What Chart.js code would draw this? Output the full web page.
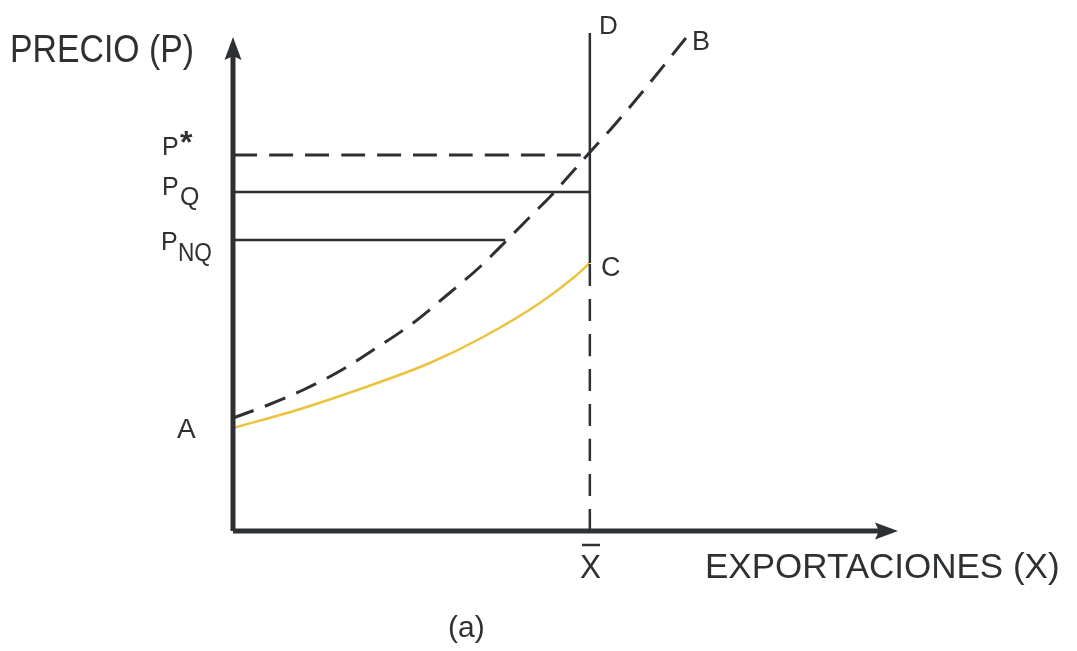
<!DOCTYPE html>
<html>
<head>
<meta charset="utf-8">
<script src="https://cdn.jsdelivr.net/npm/chart.js@4"></script>
<style>
  html, body { margin: 0; padding: 0; background: #ffffff; }
  #wrap { width: 1077px; height: 651px; }
</style>
</head>
<body>
<div id="wrap"><canvas id="c" width="1077" height="651"></canvas></div>
<script>
// ---- data (axis units: x 0..100, y 0..100) ----
const curveACx = [0, 9.6, 19.5, 29.5, 37.5, 46.0, 51.0, 53.5];
const curveACy = [20.6, 24.2, 28.6, 33.6, 38.8, 45.6, 50.6, 53.6];
const curveABx = [0, 5.25, 10.5, 16.3, 20.8, 27.0, 32.1, 37.0, 40.8, 44.8, 47.5, 53.4, 56.8, 61.0, 67.9];
const curveABy = [22.6, 25.2, 28.2, 32.2, 36.0, 41.6, 47.2, 52.8, 57.8, 63.2, 66.8, 75.6, 80.6, 87.2, 98.6];
const xBar = 53.5;
const priceLevels = [75.2, 67.8, 58.2];        // P*, PQ, PNQ
const priceLineEnds = [53.5, 53.5, 40.8];      // where each horizontal ends
const cLevel = 53.6;
const dTop = 99.6;
const xAxisEnd = 99.7;
const yAxisEnd = 98.8;

const INK = '#2e3134';
const YELLOW = '#ecc33e';

function pts(xs, ys) { return xs.map((x, i) => ({ x: x, y: ys[i] })); }

const datasets = [
  // axes
  { data: [{x:0,y:0},{x:xAxisEnd - 2.5,y:0}], borderColor: INK, borderWidth: 5 },
  { data: [{x:0,y:0},{x:0,y:yAxisEnd - 3.5}], borderColor: INK, borderWidth: 5 },
  // P*, dashed
  { data: [{x:0,y:priceLevels[0]},{x:priceLineEnds[0],y:priceLevels[0]}], borderColor: INK, borderWidth: 3, borderDash: [24, 12] },
  // PQ
  { data: [{x:0,y:priceLevels[1]},{x:priceLineEnds[1],y:priceLevels[1]}], borderColor: INK, borderWidth: 2.5 },
  // PNQ
  { data: [{x:0,y:priceLevels[2]},{x:priceLineEnds[2],y:priceLevels[2]}], borderColor: INK, borderWidth: 2.5 },
  // D (solid from C up)
  { data: [{x:xBar,y:cLevel},{x:xBar,y:dTop}], borderColor: INK, borderWidth: 2.5 },
  // dashed from X̄ to C
  { data: [{x:xBar,y:0},{x:xBar,y:cLevel}], borderColor: INK, borderWidth: 2.5, borderDash: [22, 13] },
  // A-C yellow curve
  { data: pts(curveACx, curveACy), borderColor: YELLOW, borderWidth: 2.5, cubicInterpolationMode: 'monotone' },
  // A-B dashed curve
  { data: pts(curveABx, curveABy), borderColor: INK, borderWidth: 3, borderDash: [22, 12], cubicInterpolationMode: 'monotone' }
].map(d => Object.assign({ showLine: true, pointRadius: 0, fill: false, clip: false }, d));

const labelPlugin = {
  id: 'labels',
  afterDatasetsDraw(chart) {
    const ctx = chart.ctx;
    const xs = chart.scales.x, ys = chart.scales.y;
    const X = v => xs.getPixelForValue(v), Y = v => ys.getPixelForValue(v);
    ctx.save();
    ctx.fillStyle = INK;
    ctx.strokeStyle = INK;
    // arrowheads
    const ox = X(0), oy = Y(0);
    const xt = X(xAxisEnd), yt = Y(yAxisEnd);
    ctx.beginPath();
    ctx.moveTo(xt, oy); ctx.lineTo(xt - 23, oy - 8.5); ctx.lineTo(xt - 19, oy); ctx.lineTo(xt - 23, oy + 8.5); ctx.closePath(); ctx.fill();
    ctx.beginPath();
    ctx.moveTo(ox, yt); ctx.lineTo(ox - 8.5, yt + 23); ctx.lineTo(ox, yt + 19); ctx.lineTo(ox + 8.5, yt + 23); ctx.closePath(); ctx.fill();

    const F = 'Liberation Sans, Arial, sans-serif';
    ctx.textBaseline = 'alphabetic';
    ctx.textAlign = 'left';
    function t(s, x, y, size, maxW, weight) {
      ctx.font = (weight || '') + ' ' + size + 'px ' + F;
      if (maxW) ctx.fillText(s, x, y, maxW); else ctx.fillText(s, x, y);
    }
    // axis titles
    t('PRECIO (P)', 10, 62, 39, 184);
    t('EXPORTACIONES (X)', 705, 578, 35, 357);
    t('(a)', 448, 637, 30, 52);
    // price labels
    const pS = Y(priceLevels[0]), pQ = Y(priceLevels[1]), pN = Y(priceLevels[2]);
    t('P', 162, pS, 25);
    t('*', 180, pS - 2, 32, null, 'bold');
    t('P', 162, pQ + 3, 25);
    t('Q', 180, pQ + 13, 25);
    t('P', 161, pN + 10, 25);
    t('NQ', 178, pN + 21, 25, 34);
    // point labels
    t('A', 177, Y(curveACy[0]) + 10, 28);
    t('C', 601, Y(cLevel) + 13, 27);
    t('D', 599, Y(dTop) + 1, 26);
    t('B', 692, Y(curveABy[curveABy.length - 1]) + 12, 27);
    // X-bar
    t('X', 580, oy + 47, 34, 21);
    ctx.lineWidth = 2.5;
    ctx.beginPath(); ctx.moveTo(582, oy + 14); ctx.lineTo(600, oy + 14); ctx.stroke();
    ctx.restore();
  }
};

new Chart(document.getElementById('c'), {
  type: 'scatter',
  data: { datasets: datasets },
  options: {
    responsive: false,
    animation: false,
    events: [],
    layout: { padding: { left: 233, right: 177, top: 31, bottom: 120 } },
    plugins: { legend: { display: false }, tooltip: { enabled: false }, title: { display: false } },
    elements: { line: { tension: 0.4 } },
    scales: {
      x: { type: 'linear', min: 0, max: 100, display: false },
      y: { type: 'linear', min: 0, max: 100, display: false }
    }
  },
  plugins: [labelPlugin]
});
</script>
</body>
</html>
